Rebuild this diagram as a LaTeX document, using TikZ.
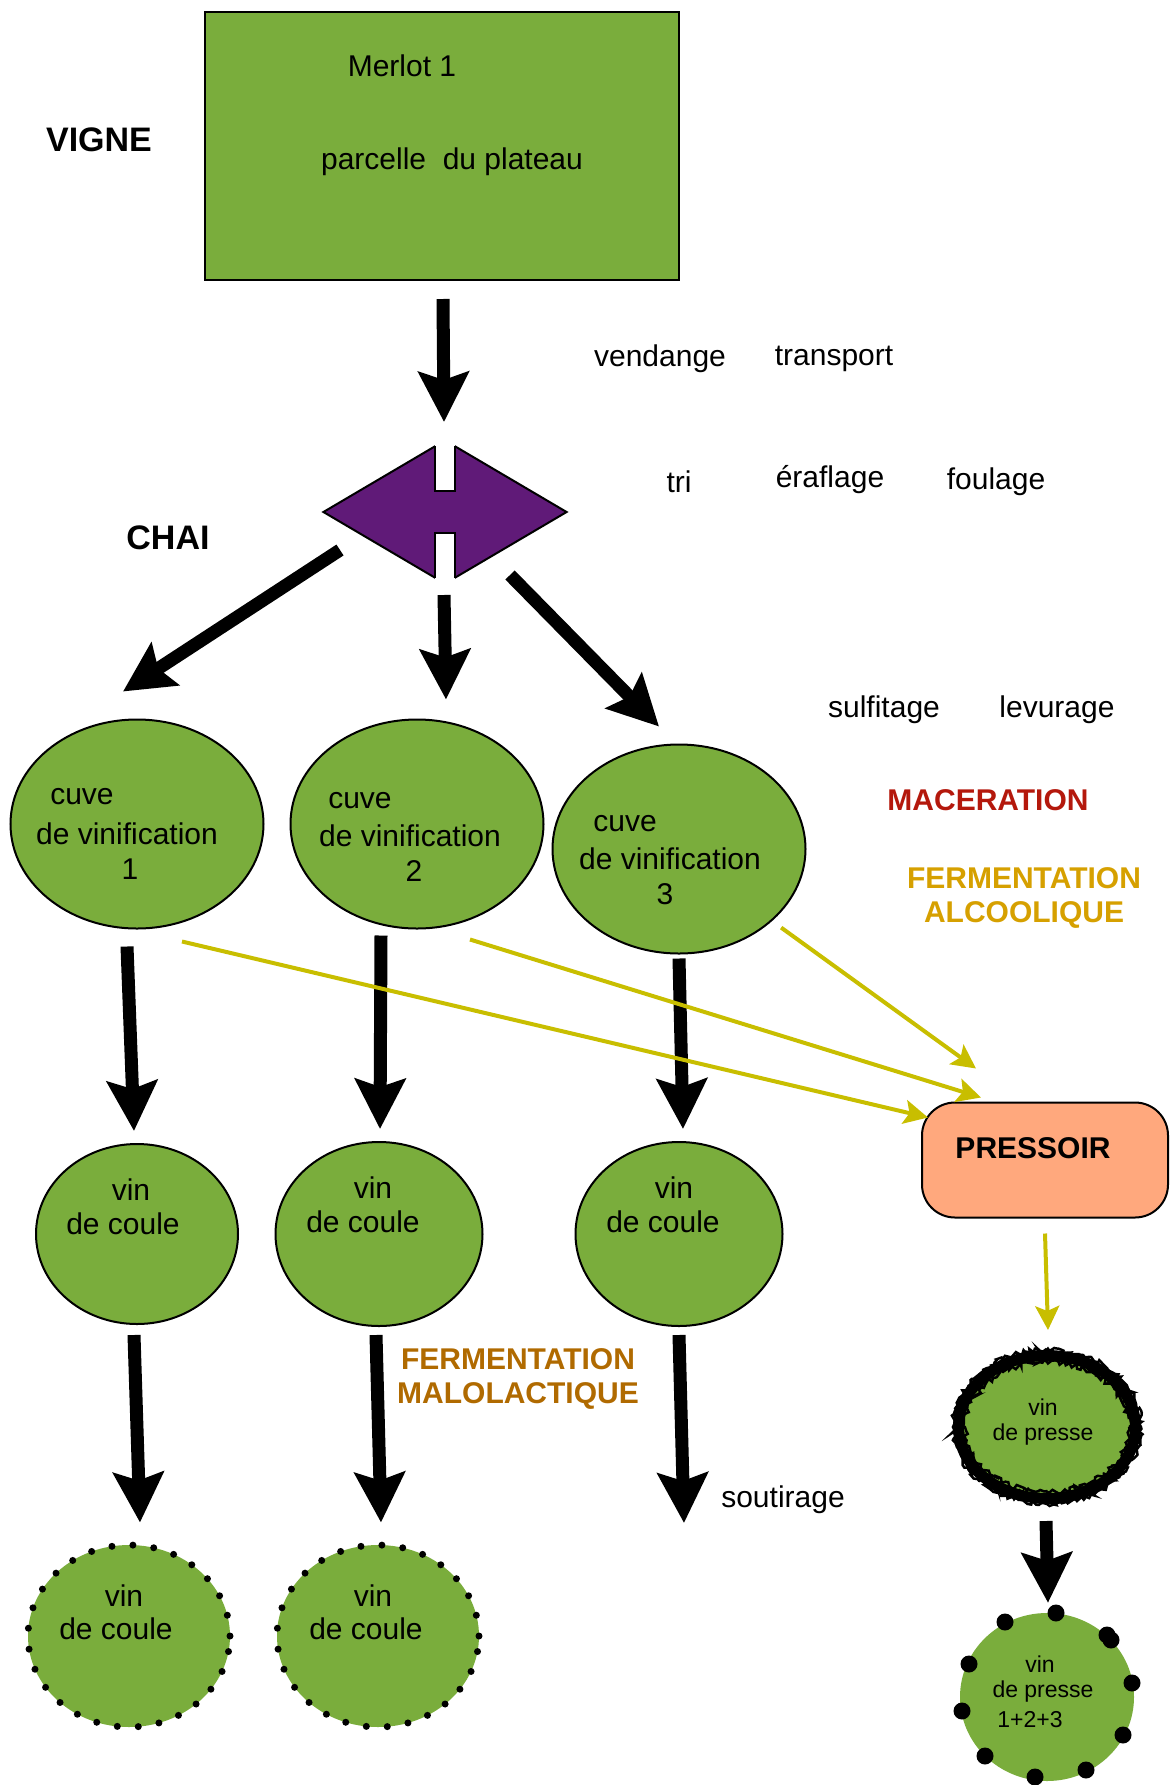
\documentclass[tikz,border=0pt]{standalone}
\usepackage{fontspec}
\setmainfont{Liberation Sans}
\usetikzlibrary{arrows.meta,shapes.geometric,calc,decorations.pathmorphing}
\definecolor{vert}{RGB}{122,173,60}
\definecolor{raisin}{RGB}{96,26,120}
\definecolor{saumon}{RGB}{255,168,125}
\definecolor{rouge}{RGB}{180,24,12}
\definecolor{dore}{RGB}{214,160,0}
\definecolor{brun}{RGB}{176,106,0}
\definecolor{jaune}{RGB}{200,190,0}
\tikzset{
	fleche/.style={line width=13pt, -{Stealth[length=50pt,width=50pt,inset=8pt]}},
	flechejaune/.style={jaune, line width=4pt, -{Stealth[length=24pt,width=24pt,inset=5pt]}},
	txt/.style={inner sep=0pt, yshift=-3pt, font=\fontsize{30}{36}\selectfont},
	petit/.style={inner sep=0pt, yshift=-2pt, font=\fontsize{23}{28}\selectfont},
	titre/.style={inner sep=0pt, yshift=-1pt, font=\fontsize{34}{40}\selectfont\bfseries},
	etape/.style={inner sep=0pt, yshift=-3pt, align=center, font=\fontsize{30}{34}\selectfont\bfseries},
	cuve/.style={ellipse, draw, line width=2pt, fill=vert, minimum width=253pt, minimum height=209pt, inner sep=0pt},
	coule/.style={ellipse, draw, line width=2pt, fill=vert, minimum width=207pt, minimum height=184pt, inner sep=0pt},
	couledot/.style={ellipse, draw, fill=vert, line width=7pt, line cap=round, dash pattern=on 0pt off 21pt, minimum width=202pt, minimum height=182pt, inner sep=0pt}
}
\begin{document}
\begin{tikzpicture}[x=1pt, y=-1pt]
	\useasboundingbox (0,0) rectangle (1171,1785);

	% vigne
	\node[draw, line width=2pt, fill=vert, minimum width=474pt, minimum height=268pt, inner sep=0pt] (parcelle) at (442,146) {};
	\node[titre] (vigne) at (99,139) {VIGNE};

	% chai : tri
	\node[diamond, draw, line width=2pt, fill=raisin, minimum width=244pt, minimum height=144pt, inner sep=0pt] (tri) at (445,512) {};
	\fill[white] ($(tri.center)+(-10,-80)$) rectangle ($(tri.center)+(10,-21)$);
	\fill[white] ($(tri.center)+(-10,21)$) rectangle ($(tri.center)+(10,80)$);
	\draw[line width=2pt] ($(tri.center)+(-10,-66)$) -- ++(0,45) -- ++(20,0) -- ++(0,-45);
	\draw[line width=2pt] ($(tri.center)+(-10,66)$) -- ++(0,-45) -- ++(20,0) -- ++(0,45);
	\node[titre] (chai) at (168,537) {CHAI};

	% cuves
	\node[cuve] (cuve1) at (137,824) {};
	\node[cuve] (cuve2) at (417,824) {};
	\node[cuve] (cuve3) at (679,849) {};

	% vins de coule
	\node[coule, minimum width=202pt, minimum height=180pt] (coule1) at (137,1234) {};
	\node[coule] (coule2) at (379,1234) {};
	\node[coule] (coule3) at (679,1234) {};
	\node[couledot] (soutire1) at (129,1636) {};
	\node[couledot] (soutire2) at (378,1636) {};
	\coordinate (bas3) at (684,1523);

	% pressoir
	\node[draw, line width=2pt, fill=saumon, rounded corners=33pt, minimum width=246pt, minimum height=115pt, inner sep=0pt] (pressoir) at (1045,1160) {};
	\node[etape] (tpressoir) at (1033,1145) {PRESSOIR};
	\node[ellipse, draw, fill=vert, line width=11pt, minimum width=177pt, minimum height=143pt, inner sep=0pt] (presse) at (1047,1427) {};
	\pgfmathsetseed{7}
	\foreach \r in {-6,-2,2,6} {
		\draw[line width=2.5pt, decorate, decoration={random steps, segment length=2.5pt, amplitude=2.5pt}] (presse.center) ellipse [x radius=88+\r, y radius=71+\r];
	}
	\node[ellipse, fill=vert, minimum width=174pt, minimum height=168pt, inner sep=0pt] (assemblage) at (1047,1697) {};
	\foreach \dx/\dy in {9/-84,-42/-75,60/-62,64/-57,-78/-33,85/-14,-85/14,76/38,-62/59,39/73,-12/80} {
		\fill ($(assemblage.center)+(\dx,\dy)$) circle (8.5);
	}

	% textes
	\foreach \nom/\x/\y/\texte in {merlot/402/63/Merlot 1, plateau/452/159/parcelle~~du plateau,
		vend/660/356/vendange, trans/834/356/transport, ttri/679/479/tri, era/830/477/éraflage,
		foul/996/479/foulage, sulf/884/707/sulfitage, lev/1057/707/levurage,
		c1a/82/794/cuve, c1b/127/831/de vinification, c1c/130/866/1,
		c2a/360/798/cuve, c2b/410/833/de vinification, c2c/414/868/2,
		c3a/625/821/cuve, c3b/670/856/de vinification, c3c/665/891/3,
		v1a/131/1187/vin, v1b/123/1221/de coule, v2a/373/1185/vin, v2b/363/1219/de coule,
		v3a/674/1185/vin, v3b/663/1219/de coule,
		s1a/124/1593/vin, s1b/116/1626/de coule, s2a/373/1593/vin, s2b/366/1626/de coule,
		sout/783/1497/soutirage} {
		\node[txt] (\nom) at (\x,\y) {\texte};
	}
	\foreach \nom/\x/\y/\texte in {p1/1043/1405/vin, p2/1043/1433/de presse,
		a1/1040/1662/vin, a2/1043/1690/de presse, a3/1030/1718/1+2+3} {
		\node[petit] (\nom) at (\x,\y) {\texte};
	}
	\node[etape, rouge] (maceration) at (988,797) {MACERATION};
	\node[etape, dore] (alcool) at (1024,895) {FERMENTATION\\ALCOOLIQUE};
	\node[etape, brun] (malo) at (518,1376) {FERMENTATION\\MALOLACTIQUE};

	% fleches
	\draw[fleche] ($(parcelle.south)+(1,18)$) -- ($(tri.north)+(-1,-17)$);
	\draw[fleche] ($(tri.west)+(18,38)$) -- ($(cuve1.north)+(-14,-27)$);
	\draw[fleche] ($(tri.south)+(-1,10)$) -- ($(cuve2.north)+(29,-19)$);
	\draw[fleche] ($(tri.east)+(-58,63)$) -- ($(cuve3.north)+(-20,-17)$);
	\draw[fleche] ($(cuve1.south)+(-10,17)$) -- ($(coule1.north)+(-3,-12)$);
	\draw[fleche] ($(cuve2.south)+(-36,6)$) -- ($(coule2.north)+(1,-12)$);
	\draw[fleche] ($(cuve3.south)+(0,4)$) -- ($(coule3.north)+(4,-12)$);
	\draw[fleche] ($(coule1.south)+(-3,10)$) -- ($(soutire1.north)+(11,-19)$);
	\draw[fleche] ($(coule2.south)+(-3,8)$) -- ($(soutire2.north)+(3,-19)$);
	\draw[fleche] ($(coule3.south)+(0,8)$) -- (bas3);
	\draw[fleche] ($(presse.south)+(-1,17)$) -- ($(assemblage.north)+(1,-10)$);

	% vers le pressoir
	\draw[flechejaune] ($(cuve1.south)+(45,12)$) -- ($(pressoir.north west)+(7,16)$);
	\draw[flechejaune] ($(cuve2.south)+(53,10)$) -- ($(pressoir.north)+(-64,-4)$);
	\draw[flechejaune] ($(cuve3.south east)+(12,4)$) -- ($(pressoir.north)+(-69,-33)$);
	\draw[flechejaune] ($(pressoir.south)+(0,15)$) -- ($(presse.north)+(1,-20)$);
\end{tikzpicture}
\end{document}
